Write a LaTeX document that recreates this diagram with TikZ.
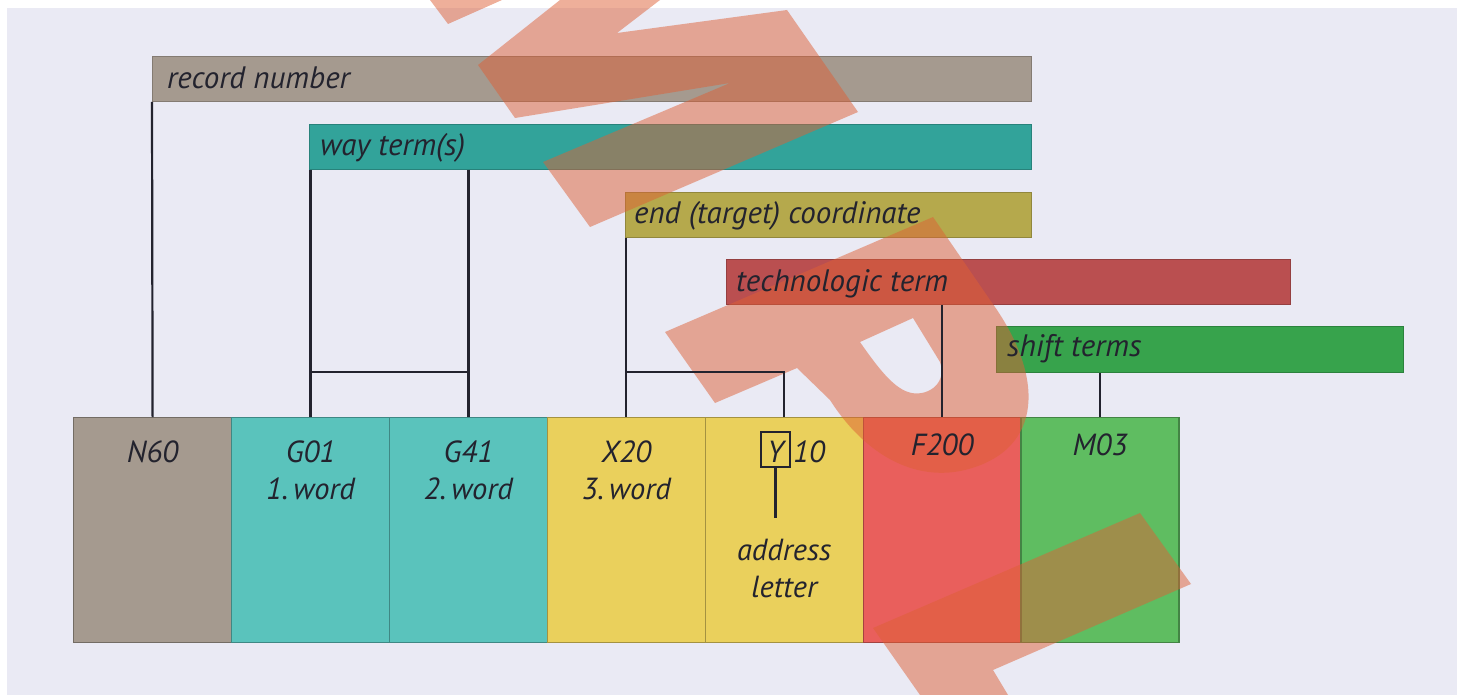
\documentclass[tikz,border=0pt]{standalone}
\usepackage{fontspec}
\setmainfont{PT Sans}
\usetikzlibrary{calc}

\definecolor{paper}{HTML}{EAEAF4}
\definecolor{ink}{HTML}{23232E}
\definecolor{recbrown}{HTML}{A59A8F}
\definecolor{wayteal}{HTML}{32A39A}
\definecolor{endolive}{HTML}{B5A94C}
\definecolor{techred}{HTML}{BA4F50}
\definecolor{shiftgreen}{HTML}{37A34C}
\definecolor{cellbrown}{HTML}{A59A8F}
\definecolor{cellteal}{HTML}{5AC3BC}
\definecolor{cellyellow}{HTML}{EAD05C}
\definecolor{cellred}{HTML}{E95F5C}
\definecolor{cellgreen}{HTML}{5FBD61}
\definecolor{stampred}{HTML}{DE6036}

\tikzset{
  bar/.style={draw=#1!80!black, fill=#1, line width=1pt, anchor=north west,
    minimum height=45pt, inner sep=0pt},
  cell/.style={draw=#1!70!black, fill=#1, line width=1.2pt, anchor=north west,
    minimum width=158pt, minimum height=225pt, inner sep=0pt},
  barlabel/.style={anchor=base west, inner sep=0pt, text=ink,
    font=\fontsize{31}{37}\selectfont\itshape},
  celltext/.style={anchor=base, inner sep=0pt, align=center, text=ink,
    font=\fontsize{30.5}{37}\selectfont\itshape},
  link/.style={draw=ink, line width=2.2pt},
  stamp/.style={fill=stampred, fill opacity=0.5},
}

\begin{document}
\begin{tikzpicture}[x=1pt, y=-1pt]
  %%%%% START %%%%%
  \useasboundingbox (0,0) rectangle (1464,695);
  \fill[white] (0,0) rectangle (1464,695);
  \fill[paper] (7,8) rectangle (1457,695);

  % bars for the word groups
  \node[bar=recbrown, minimum width=879pt] (recbar) at (152,56) {};
  \node[bar=wayteal, minimum width=722pt] (waybar) at (309,124) {};
  \node[bar=endolive, minimum width=406pt] (endbar) at (625,192) {};
  \node[bar=techred, minimum width=564pt] (techbar) at (726,259) {};
  \node[bar=shiftgreen, minimum width=407pt, minimum height=46pt] (shiftbar) at (996,326) {};

  % the record itself, one cell per word
  \foreach \name/\col [count=\i from 0] in {n60/cellbrown, g01/cellteal, g41/cellteal,
      x20/cellyellow, y10/cellyellow, f200/cellred, m03/cellgreen}
    \node[cell=\col] (\name) at ({73+157.9*\i},417) {};

  % stamp across the sheet
  \fill[stamp] (430,0) -- (448,24) -- (502,0) -- cycle;
  \fill[stamp] (560,0) -- (478,65) -- (515,118) -- (730,83) -- (543,162) -- (590,227)
    -- (858,112) -- (787,10) -- (617,33) -- (660,0) -- cycle;
  \fill[stamp, even odd rule] (665,332) -- (933,217) -- (990,300)
    .. controls (1045,375) and (1045,450) .. (965,470)
    .. controls (915,482) and (865,455) .. (830,400) -- (797,368) -- (715,403) -- cycle
    (860,342) -- (913,318) -- (940,362)
    .. controls (948,385) and (925,398) .. (908,392)
    .. controls (893,387) and (878,368) .. cycle;
  \fill[stamp] (873,628) -- (1140,513) -- (1191,584) -- (993,670) -- (1008,695)
    -- (920,695) -- cycle;

  % bar labels
  \node[barlabel] at ($(recbar.south west)+(15,-13)$) {record number};
  \node[barlabel] at ($(waybar.south west)+(11,-14)$) {way term(s)};
  \node[barlabel] at ($(endbar.south west)+(9,-14)$) {end (target) coordinate};
  \node[barlabel] at ($(techbar.south west)+(10,-14)$) {technologic term};
  \node[barlabel] at ($(shiftbar.south west)+(11,-17)$) {shift terms};

  % links from bars down to the cells
  \draw[link] (recbar.south west) -- (n60.north);
  \draw[link] (g01.north |- waybar.south) -- (g01.north);
  \draw[link] (g41.north |- waybar.south) -- (g41.north);
  \draw[link] ($(g01.north)+(0,-45)$) -- ($(g41.north)+(0,-45)$);
  \draw[link] (x20.north |- endbar.south) -- (x20.north);
  \draw[link] ($(x20.north)+(0,-45)$) -| (y10.north);
  \draw[link] (f200.north |- techbar.south) -- (f200.north);
  \draw[link] (m03.north |- shiftbar.south) -- (m03.north);

  % cell texts (base is the last line)
  \node[celltext] at ($(n60.north)+(0,45)$) {N60};
  \node[celltext] at ($(g01.north)+(0,82)$) {G01\\1.\,word};
  \node[celltext] at ($(g41.north)+(0,82)$) {G41\\2.\,word};
  \node[celltext] at ($(x20.north)+(0,82)$) {X20\\3.\,word};
  \node[celltext] at ($(f200.north)+(0,38)$) {F200};
  \node[celltext] at ($(m03.north)+(0,38)$) {M03};

  % address letter of Y10
  \node[draw=ink, line width=2.2pt, minimum width=29pt, minimum height=35pt,
    inner sep=0pt, text height=25pt, text depth=0pt, text=ink,
    font=\fontsize{30.5}{37}\selectfont\itshape] (ybox) at (775.5,449.5) {Y};
  \node[celltext, anchor=base west] (ynum) at (793,462) {10};
  \coordinate (ytail) at ($(ybox.south)+(0,50)$);
  \draw[link] (ybox.south) -- (ytail);
  \node[celltext] (addr) at ($(y10.north)+(0,180)$) {address\\letter};
  %%%%% END %%%%%
\end{tikzpicture}
\end{document}
